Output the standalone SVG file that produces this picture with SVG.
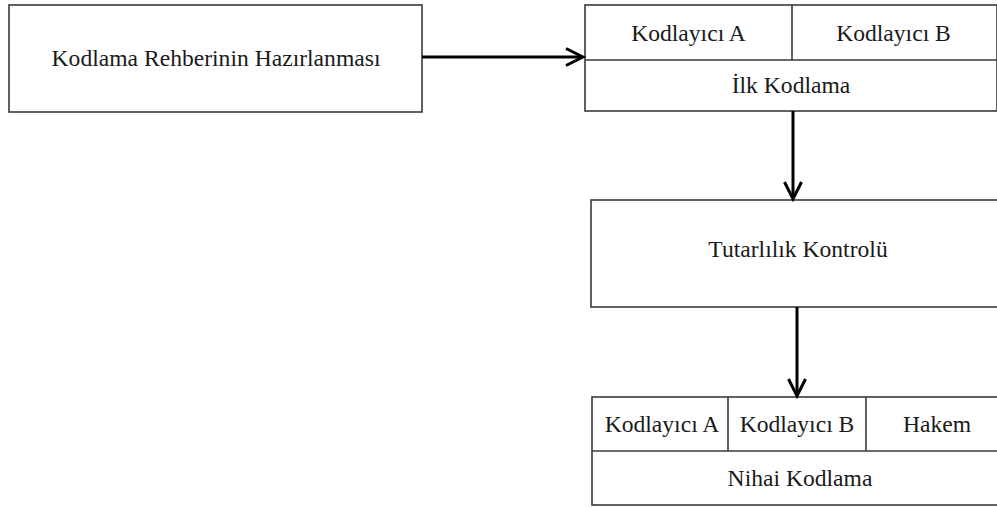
<svg xmlns="http://www.w3.org/2000/svg" width="997" height="507" viewBox="0 0 997 507">
<style>
.box{fill:#fff;stroke:#3a3a3a;stroke-width:1.6}
.div{stroke:#3a3a3a;stroke-width:1.6;fill:none}
.t{font-family:'Liberation Serif','Times New Roman',serif;font-size:23.6px;fill:#1a1a1a;text-anchor:middle}
.c{stroke:#000;stroke-width:3;fill:none}
.h{stroke:#000;stroke-width:3;fill:none;stroke-linejoin:miter}
</style>
<rect width="997" height="507" fill="#fff"/>
<g id="n1">
<rect class="box" x="9" y="5" width="413" height="107"/>
<text class="t" x="216" y="66">Kodlama Rehberinin Hazırlanması</text>
</g>
<g id="n2">
<rect class="box" x="585" y="5" width="412" height="106"/>
<line class="div" x1="585" y1="60" x2="1000" y2="60"/>
<line class="div" x1="792" y1="5" x2="792" y2="60"/>
<text class="t" x="688.5" y="41">Kodlayıcı A</text>
<text class="t" x="893.5" y="41">Kodlayıcı B</text>
<text class="t" x="791" y="93">İlk Kodlama</text>
</g>
<g id="n3">
<rect class="box" x="591" y="200" width="414" height="107"/>
<text class="t" x="798" y="257">Tutarlılık Kontrolü</text>
</g>
<g id="n4">
<rect class="box" x="592" y="397" width="415" height="108"/>
<line class="div" x1="592" y1="451" x2="1010" y2="451"/>
<line class="div" x1="728" y1="397" x2="728" y2="451"/>
<line class="div" x1="866" y1="397" x2="866" y2="451"/>
<text class="t" x="662" y="432">Kodlayıcı A</text>
<text class="t" x="797" y="432">Kodlayıcı B</text>
<text class="t" x="937" y="432">Hakem</text>
<text class="t" x="800" y="486">Nihai Kodlama</text>
</g>
<g id="connectors">
<line class="c" x1="422" y1="57" x2="582" y2="57"/>
<polyline class="h" points="566,48.5 583,57 566,65.5"/>
<line class="c" x1="793" y1="111" x2="793" y2="198"/>
<polyline class="h" points="784.5,182 793,199 801.5,182"/>
<line class="c" x1="797" y1="307" x2="797" y2="395"/>
<polyline class="h" points="788.5,379 797,396 805.5,379"/>
</g>
</svg>
